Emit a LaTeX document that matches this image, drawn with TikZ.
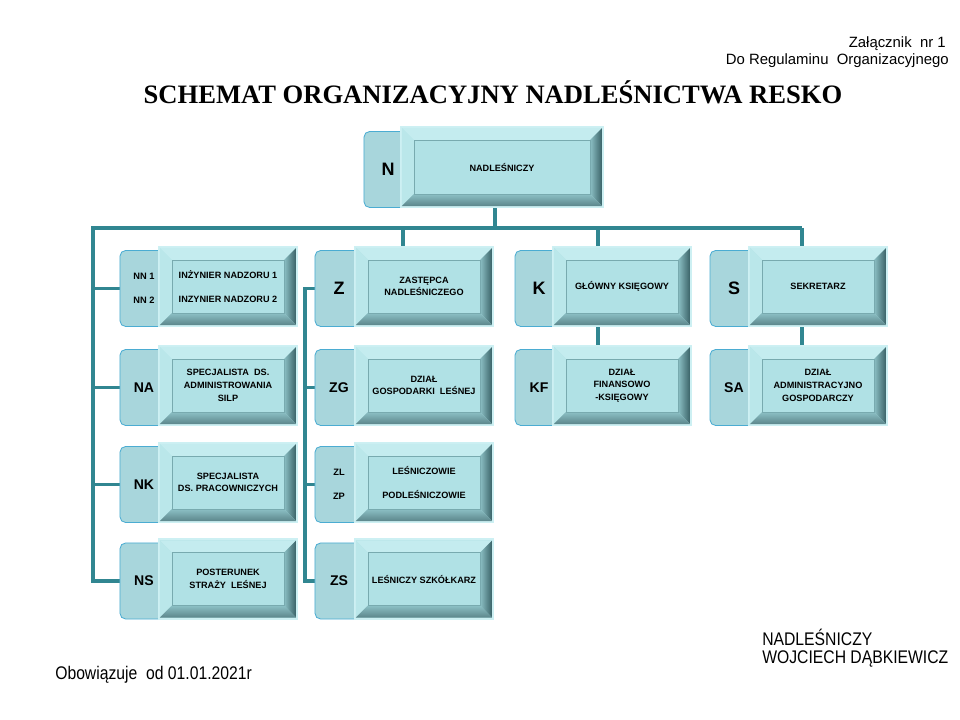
\documentclass[tikz,border=0pt]{standalone}
\usepackage{fontspec}
\setmainfont{Liberation Sans}
\newfontfamily\titlefont{Liberation Serif}
\newfontfamily\narrowfont{Liberation Sans}[FakeStretch=0.86]
\usetikzlibrary{calc,backgrounds}

\definecolor{linecol}{RGB}{49,134,145}
\definecolor{tabfill}{RGB}{168,214,220}
\definecolor{tabline}{RGB}{75,172,210}
\definecolor{boxface}{RGB}{176,225,229}
\definecolor{bevtop}{RGB}{196,236,239}
\definecolor{bevleft}{RGB}{186,231,234}
\definecolor{bevmid}{RGB}{140,192,197}
\definecolor{bevdark}{RGB}{58,98,103}
\definecolor{bevlow}{RGB}{92,134,139}
\definecolor{innerline}{RGB}{120,170,175}
\definecolor{glow}{RGB}{205,240,243}

% Rahmen mit Fase
\newcommand{\bevel}{%
  \path (path picture bounding box.north west) coordinate (bNW)
        (path picture bounding box.north east) coordinate (bNE)
        (path picture bounding box.south east) coordinate (bSE)
        (path picture bounding box.south west) coordinate (bSW);
  \fill[bevtop] (bNW) -- (bNE) -- ([xshift=-3mm,yshift=-3mm]bNE) -- ([xshift=3mm,yshift=-3mm]bNW) -- cycle;
  \fill[bevleft] (bNW) -- ([xshift=3mm,yshift=-3mm]bNW) -- ([xshift=3mm,yshift=3mm]bSW) -- (bSW) -- cycle;
  \shade[left color=bevmid, right color=bevdark] (bNE) -- (bSE) -- ([xshift=-3mm,yshift=3mm]bSE) -- ([xshift=-3mm,yshift=-3mm]bNE) -- cycle;
  \shade[top color=bevmid, bottom color=bevlow] (bSW) -- (bSE) -- ([xshift=-3mm,yshift=3mm]bSE) -- ([xshift=3mm,yshift=3mm]bSW) -- cycle;
  \draw[innerline, line width=0.4pt] ([xshift=3mm,yshift=-3mm]bNW) rectangle ([xshift=-3mm,yshift=3mm]bSE);
}

\tikzset{
  conn/.style={draw=linecol, line width=2.6pt},
  tab/.style={rectangle, rounded corners=4pt, draw=tabline, line width=0.6pt, fill=tabfill,
    minimum width=1.2cm, minimum height=1.9cm, inner sep=0pt, align=center,
    font=\bfseries\fontsize{10}{12}\selectfont},
  bigtab/.style={tab, font=\bfseries\fontsize{12.8}{14}\selectfont},
  twotab/.style={tab, font=\bfseries\fontsize{6.6}{17}\selectfont},
  unitbox/.style={rectangle, fill=boxface, minimum width=3.4cm, minimum height=1.925cm,
    inner sep=0pt, align=center, font=\bfseries\fontsize{6.5}{9}\selectfont,
    preaction={draw=glow, line width=3pt, rounded corners=2pt}, path picture={\bevel}},
  foot/.style={anchor=base west, inner sep=0pt, font=\narrowfont\fontsize{13}{15}\selectfont},
}

\begin{document}
\begin{tikzpicture}[x=0.025cm, y=-0.025cm]
    \useasboundingbox (0,0) rectangle (960,720);

    % Kopf
    \node[anchor=base east, inner sep=0pt, font=\fontsize{10.6}{12}\selectfont] (zal) at (946,48) {Załącznik\ \ nr 1};
    \node[anchor=base east, inner sep=0pt, font=\fontsize{10.6}{12}\selectfont] (reg) at (949,65) {Do Regulaminu\ \ Organizacyjnego};
    \node[anchor=base, inner sep=0pt, font=\titlefont\bfseries\fontsize{18.9}{21}\selectfont] (title) at (493,104)
        {SCHEMAT ORGANIZACYJNY NADLEŚNICTWA RESKO};

    % Nadleśniczy
    \node[bigtab] (tN) at (388,169.5) {N};
    \node[unitbox, minimum width=5cm, minimum height=1.95cm] (bN) at (502,167) {NADLEŚNICZY};

    % Reihe 1
    \node[twotab] (tNN) at (144,288.5) {NN 1\\NN 2};
    \node[unitbox] (bNN) at (228,286.5) {INŻYNIER NADZORU 1\\[8pt]INZYNIER NADZORU 2};
    \node[bigtab] (tZ) at (339,288.5) {Z};
    \node[unitbox] (bZ) at (424,286.5) {ZASTĘPCA\\NADLEŚNICZEGO};
    \node[bigtab] (tK) at (539,288.5) {K};
    \node[unitbox] (bK) at (622,286.5) {GŁÓWNY KSIĘGOWY};
    \node[bigtab] (tS) at (734,288.5) {S};
    \node[unitbox] (bS) at (818,286.5) {SEKRETARZ};

    % Reihe 2
    \node[tab] (tNA) at (144,387.5) {NA};
    \node[unitbox] (bNA) at (228,385.5) {SPECJALISTA\ \ DS.\\ADMINISTROWANIA\\SILP};
    \node[tab] (tZG) at (339,387.5) {ZG};
    \node[unitbox] (bZG) at (424,385.5) {DZIAŁ\\GOSPODARKI\ \ LEŚNEJ};
    \node[tab] (tKF) at (539,387.5) {KF};
    \node[unitbox] (bKF) at (622,385.5) {DZIAŁ\\FINANSOWO\\-KSIĘGOWY};
    \node[tab] (tSA) at (734,387.5) {SA};
    \node[unitbox] (bSA) at (818,385.5) {DZIAŁ\\ADMINISTRACYJNO\\GOSPODARCZY};

    % Reihe 3
    \node[tab] (tNK) at (144,484.5) {NK};
    \node[unitbox] (bNK) at (228,482.5) {SPECJALISTA\\DS. PRACOWNICZYCH};
    \node[twotab] (tZL) at (339,484.5) {ZL\\ZP};
    \node[unitbox] (bZL) at (424,482.5) {LEŚNICZOWIE\\[8pt]PODLEŚNICZOWIE};

    % Reihe 4
    \node[tab] (tNS) at (144,581) {NS};
    \node[unitbox] (bNS) at (228,579) {POSTERUNEK\\STRAŻY\ \ LEŚNEJ};
    \node[tab] (tZS) at (339,581) {ZS};
    \node[unitbox] (bZS) at (424,579) {LEŚNICZY SZKÓŁKARZ};

    % Linien
    \begin{scope}[on background layer]
        \coordinate (busL) at (93,228);
        \coordinate (busR) at (802,228);
        \coordinate (busN) at (495,228);
        \coordinate (busZ) at (403,228);
        \coordinate (busK) at (598,228);
        \coordinate (spineZ) at (305,290);
        \draw[conn] (busN) -- (busN |- bN.south);
        \draw[conn] (tNS.west) -| (busL) -- (busR);
        \foreach \t in {tNN,tNA,tNK}
            \draw[conn] (\t.west) -- (\t.west -| busL);
        \draw[conn] (busZ) -- (busZ |- bZ.north);
        \draw[conn] (busK) -- (busK |- bKF.north);
        \draw[conn] (busR) -- (busR |- bSA.north);
        \draw[conn] (tZ.west) -- (tZ.west -| spineZ) |- (tZS.west);
        \foreach \t in {tZG,tZL}
            \draw[conn] (\t.west) -- (\t.west -| spineZ);
    \end{scope}

    % Fuß
    \node[foot] (nadl) at (762,645) {NADLEŚNICZY};
    \node[foot] (wd) at (762,663) {WOJCIECH DĄBKIEWICZ};
    \node[foot] (obow) at (55,679) {Obowiązuje\ \ od 01.01.2021r};

\end{tikzpicture}
\end{document}
